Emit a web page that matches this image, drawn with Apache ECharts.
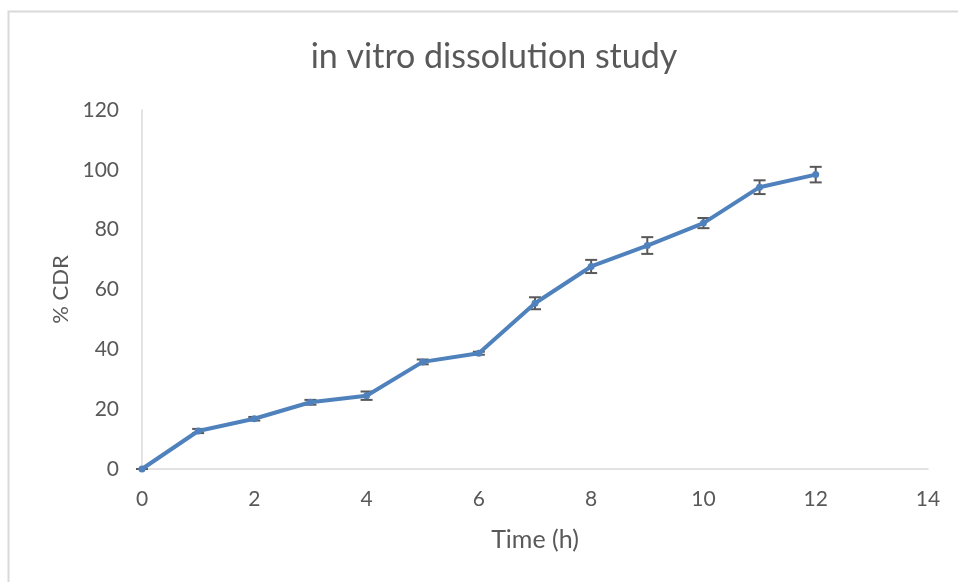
<!DOCTYPE html>
<html>
<head>
<meta charset="utf-8">
<script src="https://cdn.jsdelivr.net/npm/echarts@6/dist/echarts.min.js"></script>
<style>
	html, body { margin: 0; padding: 0; background: #fff; }
	#main { width: 958px; height: 582px; }
</style>
</head>
<body>
<div id="main"></div>
<script>
	// time points (h), mean % CDR and error (+/-)
	var times = [0, 1, 2, 3, 4, 5, 6, 7, 8, 9, 10, 11, 12];
	var cdr = [0, 12.7, 16.8, 22.3, 24.5, 35.8, 38.7, 55.4, 67.7, 74.7, 82.2, 94.2, 98.4];
	var err = [0, 0.7, 0.6, 0.8, 1.4, 0.8, 0.5, 2.0, 2.2, 2.8, 1.7, 2.3, 2.6];

	var txt = '#595959',
		axisColor = '#d9d9d9',
		lineColor = '#4f81bd';

	var myChart = echarts.init(document.getElementById('main'));

	var lineData = times.map(function(t, i) { return [t, cdr[i]]; });
	var errData = times.map(function(t, i) { return [t, cdr[i] - err[i], cdr[i] + err[i]]; });

	var option = {
		backgroundColor: '#fff',
		animation: false,
		textStyle: { fontFamily: 'Lato' },
		title: {
			text: 'in vitro dissolution study',
			left: 489,
			textAlign: 'center',
			top: 35,
			textStyle: {
				color: txt,
				fontSize: 34,
				fontWeight: 'normal',
				fontFamily: 'Lato'
			}
		},
		graphic: [{
			type: 'rect',
			shape: { x: 8.5, y: 11.5, width: 980, height: 600 },
			style: { fill: 'none', stroke: axisColor, lineWidth: 2 },
			silent: true
		}],
		grid: {
			left: 142,
			right: 30,
			top: 110,
			bottom: 113
		},
		xAxis: {
			type: 'value',
			min: 0,
			max: 14,
			interval: 2,
			name: 'Time (h)',
			nameLocation: 'middle',
			nameGap: 58,
			nameTextStyle: { color: txt, fontSize: 25 },
			axisLine: { lineStyle: { color: axisColor, width: 1.5 } },
			axisTick: { show: false },
			splitLine: { show: false },
			axisLabel: { color: txt, fontSize: 21, margin: 20 }
		},
		yAxis: {
			type: 'value',
			min: 0,
			max: 120,
			interval: 20,
			name: '% CDR',
			nameLocation: 'middle',
			nameGap: 70,
			nameTextStyle: { color: txt, fontSize: 22 },
			axisLine: { show: true, lineStyle: { color: axisColor, width: 1.5 } },
			axisTick: { show: false },
			splitLine: { show: false },
			axisLabel: { color: txt, fontSize: 21, margin: 23 }
		},
		series: [{
			type: 'custom',
			z: 3,
			data: errData,
			renderItem: function(params, api) {
				var x = api.value(0);
				var lo = api.coord([x, api.value(1)]);
				var hi = api.coord([x, api.value(2)]);
				var w = 6;
				var st = { stroke: '#595959', lineWidth: 2 };
				return {
					type: 'group',
					children: [
						{ type: 'line', shape: { x1: lo[0], y1: lo[1], x2: hi[0], y2: hi[1] }, style: st },
						{ type: 'line', shape: { x1: lo[0] - w, y1: lo[1], x2: lo[0] + w, y2: lo[1] }, style: st },
						{ type: 'line', shape: { x1: hi[0] - w, y1: hi[1], x2: hi[0] + w, y2: hi[1] }, style: st }
					]
				};
			}
		}, {
			type: 'line',
			z: 4,
			data: lineData,
			symbol: 'circle',
			symbolSize: 7,
			lineStyle: { color: lineColor, width: 4 },
			itemStyle: { color: lineColor }
		}]
	};
	myChart.setOption(option);
</script>
</body>
</html>
